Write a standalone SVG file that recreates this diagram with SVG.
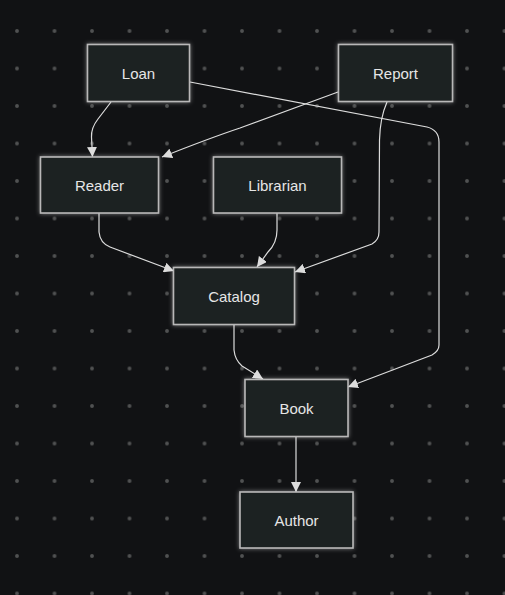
<svg xmlns="http://www.w3.org/2000/svg" width="505" height="595" viewBox="0 0 505 595">
<defs>
<pattern id="dots" x="-1.75" y="12.25" width="37.5" height="37.5" patternUnits="userSpaceOnUse">
<circle cx="18.75" cy="18.75" r="1.9" fill="#505152"/>
</pattern>
<filter id="glow" x="-20%" y="-30%" width="140%" height="160%">
<feDropShadow dx="0" dy="0" stdDeviation="2.2" flood-color="#ffffff" flood-opacity="0.45"/>
</filter>
<marker id="arr" viewBox="0 0 10 10" refX="10" refY="5" markerWidth="10" markerHeight="10" markerUnits="userSpaceOnUse" orient="auto">
<path d="M0,0 L10,5 L0,10 Z" fill="#dcdcdc"/>
</marker>
<style>
.node rect{fill:#1f2020;stroke:#b8b8b8;stroke-width:1.6;filter:url(#glow)}
.node text{fill:#e6e6e6;font-family:"Liberation Sans",Arial,sans-serif;font-size:15px;text-anchor:middle;dominant-baseline:central}
.edges path{fill:none;stroke:#dcdcdc;stroke-width:1.2;marker-end:url(#arr)}
</style>
</defs>
<rect width="505" height="595" fill="#111214"/>
<rect width="505" height="595" fill="url(#dots)"/>
<g class="edges">
<path d="M111,102 L98,119 Q91,128 91.5,137 L92.5,157"/>
<path d="M338,92 L240,128 Q210,138 162,157"/>
<path d="M190,82 L427,127 Q439,130 439,142 L439,345 Q439,351 432,355 L348,387"/>
<path d="M387,102 Q380,118 379.5,140 L379,232 Q379,240 372,244 L295,272"/>
<path d="M99,213 L99,232 Q100,243 110,247 L174,271"/>
<path d="M277,213 L277,230 Q277,243 268,252 L257,267"/>
<path d="M234,324 L234,350 Q235,360 242,366 L263,379"/>
<path d="M296,437 L296,492"/>
</g>
<g id="loan" class="node"><rect x="87.5" y="44.5" width="102" height="57"/><text x="138.5" y="73">Loan</text></g>
<g id="report" class="node"><rect x="338.5" y="44.5" width="114" height="57"/><text x="395.5" y="73">Report</text></g>
<g id="reader" class="node"><rect x="40.5" y="157" width="118" height="56"/><text x="99.5" y="185">Reader</text></g>
<g id="librarian" class="node"><rect x="213.5" y="157" width="128" height="56"/><text x="277.5" y="185">Librarian</text></g>
<g id="catalog" class="node"><rect x="173.5" y="267.5" width="121" height="57"/><text x="234" y="296">Catalog</text></g>
<g id="book" class="node"><rect x="245" y="379.5" width="103" height="57"/><text x="296.5" y="408">Book</text></g>
<g id="author" class="node"><rect x="240" y="492" width="113" height="56"/><text x="296.5" y="520">Author</text></g>
</svg>
